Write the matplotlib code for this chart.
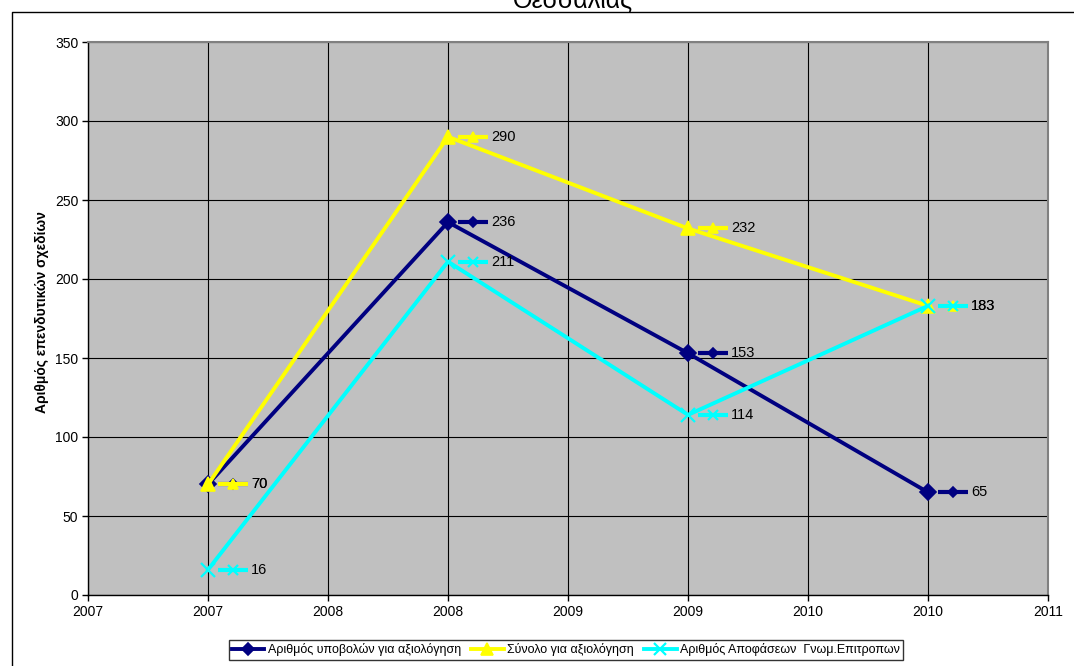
import matplotlib
matplotlib.use("Agg")
import matplotlib.pyplot as plt
from matplotlib.transforms import offset_copy
from matplotlib.lines import Line2D

plt.rcParams['font.family'] = ['Liberation Sans', 'DejaVu Sans']

years = [2007, 2008, 2009, 2010]
submissions = [70, 236, 153, 65]
total_eval = [70, 290, 232, 183]
decisions = [16, 211, 114, 183]
series_names = ["Αριθμός υποβολών για αξιολόγηση",
                "Σύνολο για αξιολόγηση",
                "Αριθμός Αποφάσεων  Γνωμ.Επιτροπων"]
xtick_pos = [2006.5, 2007, 2007.5, 2008, 2008.5, 2009, 2009.5, 2010, 2010.5]
xtick_labels = ["2007", "2007", "2008", "2008", "2009", "2009", "2010", "2010", "2011"]
yticks = [0, 50, 100, 150, 200, 250, 300, 350]
ylabel = "Αριθμός επενδυτικών σχεδίων"
title = "Θεσσαλίας"

W, H = 1074, 666
fig = plt.figure(figsize=(W / 100, H / 100), dpi=100)
ax = fig.add_axes([88 / W, 1 - 595 / H, (1048 - 88) / W, (595 - 42) / H])
ax.set_facecolor('#C0C0C0')

series = [
    (submissions, '#000080', 'D', 8, 1.2),
    (total_eval, '#FFFF00', '^', 10, 1.2),
    (decisions, '#00FFFF', 'x', 10, 1.6),
]

for (vals, col, mk, ms, mew), name in zip(series, series_names):
    ax.plot(years, vals, color=col, lw=2.8, marker=mk, ms=ms, mec=col, mfc=col,
            mew=mew, label=name, zorder=3, clip_on=False)

# data labels with legend keys
key_tr = offset_copy(ax.transData, fig=fig, x=25, y=0, units='dots')
for vals, col, mk, ms, mew in series:
    for x, v in zip(years, vals):
        ax.plot([x], [v], marker='_', ms=21, mew=3.0, color=col, transform=key_tr,
                zorder=4, clip_on=False)
        ax.plot([x], [v], marker=mk, ms=ms * 0.7, mew=mew, color=col, mfc=col,
                transform=key_tr, zorder=4, clip_on=False)
        ax.annotate(str(v), (x, v), xytext=(31, 0), textcoords='offset points',
                    va='center', ha='left', fontsize=10.5, color='black', zorder=5)

ax.set_xlim(2006.5, 2010.5)
ax.set_ylim(0, 350)
ax.set_xticks(xtick_pos)
ax.set_xticklabels(xtick_labels, fontsize=10)
ax.set_yticks(yticks)
ax.set_yticklabels([str(t) for t in yticks], fontsize=10)
ax.tick_params(axis='both', direction='out', length=4, width=1, color='black', pad=3)
ax.grid(True, color='black', lw=0.8)
ax.set_axisbelow(True)
for s in ['top', 'right']:
    ax.spines[s].set_color('#808080')
    ax.spines[s].set_linewidth(1.5)
for s in ['left', 'bottom']:
    ax.spines[s].set_color('black')
    ax.spines[s].set_linewidth(1.0)

fig.text(42 / W, 1 - 312 / H, ylabel, rotation=90, fontsize=10, fontweight='bold',
         ha='center', va='center')

fig.text(573 / W, 1 - 8 / H, title, fontsize=18, ha='center', va='baseline')

# chart border (left and top)
fig.add_artist(Line2D([12 / W, 12 / W, 1.0], [0.0, 1 - 12 / H, 1 - 12 / H],
                      transform=fig.transFigure, color='black', lw=1.0))

leg = fig.legend(loc='center', bbox_to_anchor=(566 / W, 1 - 650 / H), ncol=3,
                 fontsize=9, frameon=True, fancybox=False, edgecolor='black',
                 handlelength=2.6, handletextpad=0.3, columnspacing=0.8,
                 borderpad=0.25, markerscale=0.8)
leg.get_frame().set_linewidth(1.0)

fig.savefig('out.png', dpi=100)
